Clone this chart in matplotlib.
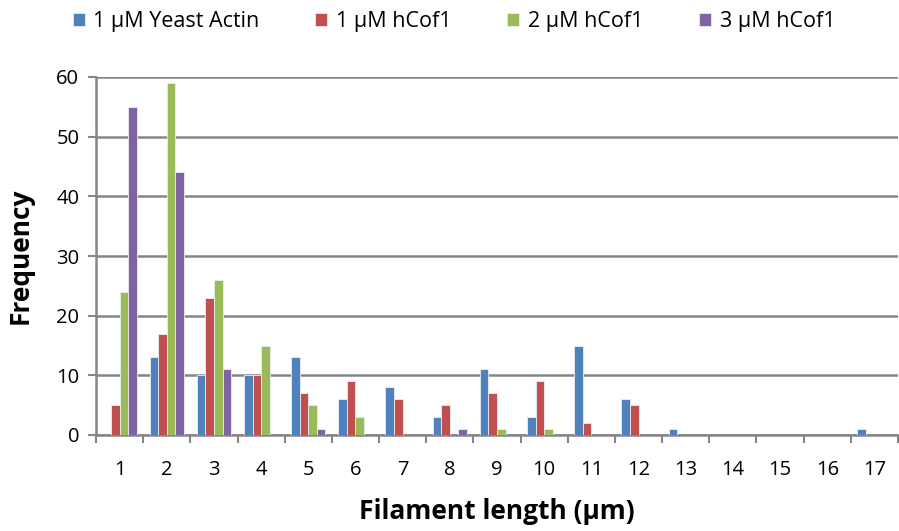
import numpy as np
import matplotlib.pyplot as plt

lengths = [str(i) for i in range(1, 18)]
yeast_actin = [0, 13, 10, 10, 13, 6, 8, 3, 11, 3, 15, 6, 1, 0, 0, 0, 1]
hcof1_1 = [5, 17, 23, 10, 7, 9, 6, 5, 7, 9, 2, 5, 0, 0, 0, 0, 0]
hcof1_2 = [24, 59, 26, 15, 5, 3, 0, 0, 1, 1, 0, 0, 0, 0, 0, 0, 0]
hcof1_3 = [55, 44, 11, 0, 1, 0, 0, 1, 0, 0, 0, 0, 0, 0, 0, 0, 0]

series = [
    ("1 \u00b5M Yeast Actin", yeast_actin, "#4F81BD"),
    ("1 \u00b5M hCof1", hcof1_1, "#C0504D"),
    ("2 \u00b5M hCof1", hcof1_2, "#9BBB59"),
    ("3 \u00b5M hCof1", hcof1_3, "#8064A2"),
]

plt.rcParams['font.family'] = ['Open Sans', 'DejaVu Sans']

fig = plt.figure(figsize=(8.99, 5.31), dpi=100)
ax = fig.add_axes([96 / 899, 1 - 435 / 531, 802 / 899, 358 / 531])

x = np.arange(len(lengths))
w = 1 / 5.5
for i, (name, vals, col) in enumerate(series):
    ax.bar(x + (i - 1.5) * w, vals, width=w, color=col, edgecolor='#E8EEF7',
           linewidth=0.6, label=name, zorder=3)

ax.set_xlim(-0.5, len(lengths) - 0.5)
ax.set_ylim(0, 60)
ax.set_yticks(range(0, 61, 10))
ax.set_xticks(x)
ax.set_xticklabels(lengths)
ax.set_xticks(np.arange(-0.5, len(lengths), 1), minor=True)
ax.tick_params(axis='x', which='major', length=0, pad=18, labelsize=14.5)
ax.tick_params(axis='x', which='minor', length=6, width=1.5, color='#868686')
ax.tick_params(axis='y', length=6, width=1.5, color='#868686', labelsize=14.5, pad=6)
ax.grid(axis='y', color='#868686', linewidth=1.8, zorder=0)
for s in ['top', 'right']:
    ax.spines[s].set_visible(False)
for s in ['left', 'bottom']:
    ax.spines[s].set_color('#868686')
    ax.spines[s].set_linewidth(1.8)

ax.set_xlabel("Filament length (\u00b5m)", fontsize=19, fontweight='bold', labelpad=13)
ax.set_ylabel("Frequency", fontsize=19, fontweight='bold', labelpad=16)

ax.legend(loc='center', bbox_to_anchor=(0.505, (531 - 22) / 531), bbox_transform=fig.transFigure,
          ncol=4, frameon=False, fontsize=15.5, handlelength=0.55, handleheight=0.55,
          handletextpad=0.4, columnspacing=2.6)

fig.savefig("out.png", dpi=100)
